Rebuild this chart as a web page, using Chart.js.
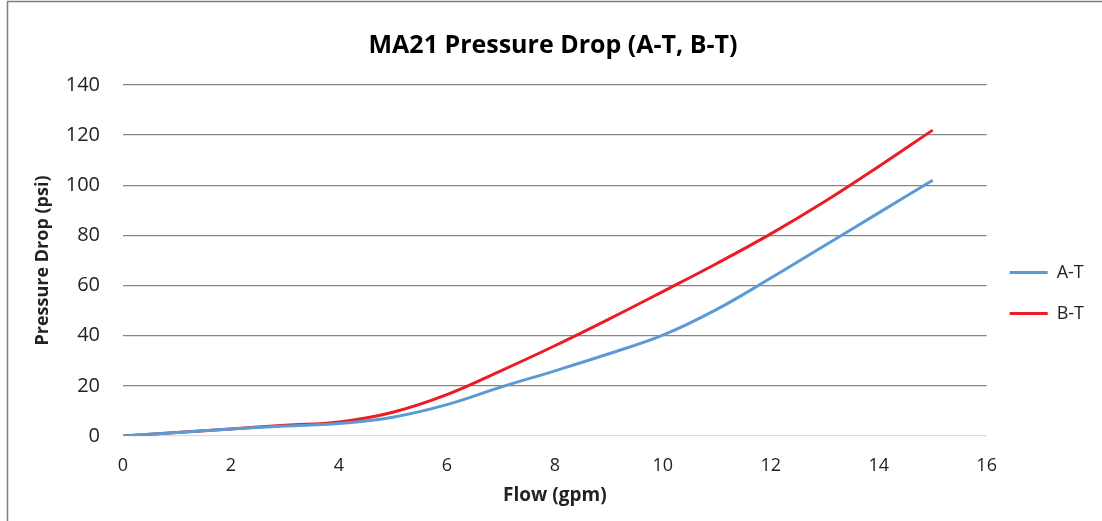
<!DOCTYPE html>
<html>
<head>
<meta charset="utf-8">
<script src="https://cdn.jsdelivr.net/npm/chart.js@4.4.1/dist/chart.umd.min.js"></script>
<style>
  html, body { margin:0; padding:0; background:#fff; }
  #wrap { width:1102px; height:521px; }
</style>
</head>
<body>
<div id="wrap"><canvas id="chart" width="1102" height="521"></canvas></div>
<script>
// DATA
const flow = [0, 1, 2, 3, 4, 5, 6, 7, 8, 9, 10, 11, 12, 13, 14, 15];
const atDrop = [0, 1.4, 2.8, 4.0, 5.0, 7.5, 12.5, 19.5, 26, 32.8, 40.2, 50.5, 63, 76, 89, 102];
const btDrop = [0, 1.4, 2.8, 4.3, 5.6, 9.5, 16.5, 26, 36, 46.6, 57.6, 68.8, 80.6, 93.5, 107.5, 122];
const seriesNames = ['A-T', 'B-T'];
const xTicks = [0, 2, 4, 6, 8, 10, 12, 14, 16];
const yTicks = [0, 20, 40, 60, 80, 100, 120, 140];

const FONT = "'Open Sans', 'Liberation Sans', sans-serif";
const toPoints = ys => flow.map((x,i)=>({x:x, y:ys[i]}));

// outer frame of the chart
const frame = {
  id:'frame',
  afterDraw(chart){
    const c = chart.ctx;
    c.save();
    c.strokeStyle = '#7f7f7f';
    c.lineWidth = 1.5;
    c.beginPath();
    c.moveTo(7.5, 521); c.lineTo(7.5, 1.5); c.lineTo(1102, 1.5);
    c.stroke();
    c.restore();
  }
};

new Chart(document.getElementById('chart').getContext('2d'),{
  type:'line',
  data:{
    datasets:[
      {label:seriesNames[0], data:toPoints(atDrop), borderColor:'#5b9bd5', backgroundColor:'#5b9bd5', borderWidth:3, pointRadius:0, tension:0.4},
      {label:seriesNames[1], data:toPoints(btDrop), borderColor:'#ed1c24', backgroundColor:'#ed1c24', borderWidth:3, pointRadius:0, tension:0.4}
    ]
  },
  options:{
    responsive:false,
    animation:false,
    layout:{padding:{left:12, right:8, top:0, bottom:0}},
    plugins:{
      title:{display:true, text:'MA21 Pressure Drop (A-T, B-T)', color:'#000', font:{family:FONT, size:25, weight:'bold'}, padding:{top:31, bottom:24}},
      legend:{
        position:'right',
        title:{display:true, text:' ', font:{size:10}, padding:{top:53, bottom:0}},
        labels:{usePointStyle:true, pointStyle:'line', pointStyleWidth:38, color:'#222', font:{family:FONT, size:18}, padding:23}
      },
      tooltip:{enabled:false}
    },
    scales:{
      x:{
        type:'linear', min:0, max:16,
        afterBuildTicks: s => { s.ticks = xTicks.map(v=>({value:v})); },
        afterFit: s => { s.height = 85; },
        grid:{display:false, drawTicks:false},
        border:{display:false},
        ticks:{color:'#222', font:{family:FONT, size:18}, padding:19, maxRotation:0},
        title:{display:true, text:'Flow (gpm)', color:'#222', font:{family:FONT, size:19, weight:'bold'}, padding:{top:0, bottom:14}}
      },
      y:{
        min:0, max:140,
        afterBuildTicks: s => { s.ticks = yTicks.map(v=>({value:v})); },
        afterFit: s => { s.width = 111; },
        grid:{drawTicks:false, color: c => c.tick && c.tick.value === 0 ? '#d9d9d9' : '#868686', lineWidth:1.3},
        border:{display:false},
        ticks:{color:'#222', font:{family:FONT, size:20}, padding:23},
        title:{display:true, text:'Pressure Drop (psi)', color:'#222', font:{family:FONT, size:18, weight:'bold'}, padding:{top:20, bottom:0}}
      }
    }
  },
  plugins:[frame]
});
</script>
</body>
</html>
